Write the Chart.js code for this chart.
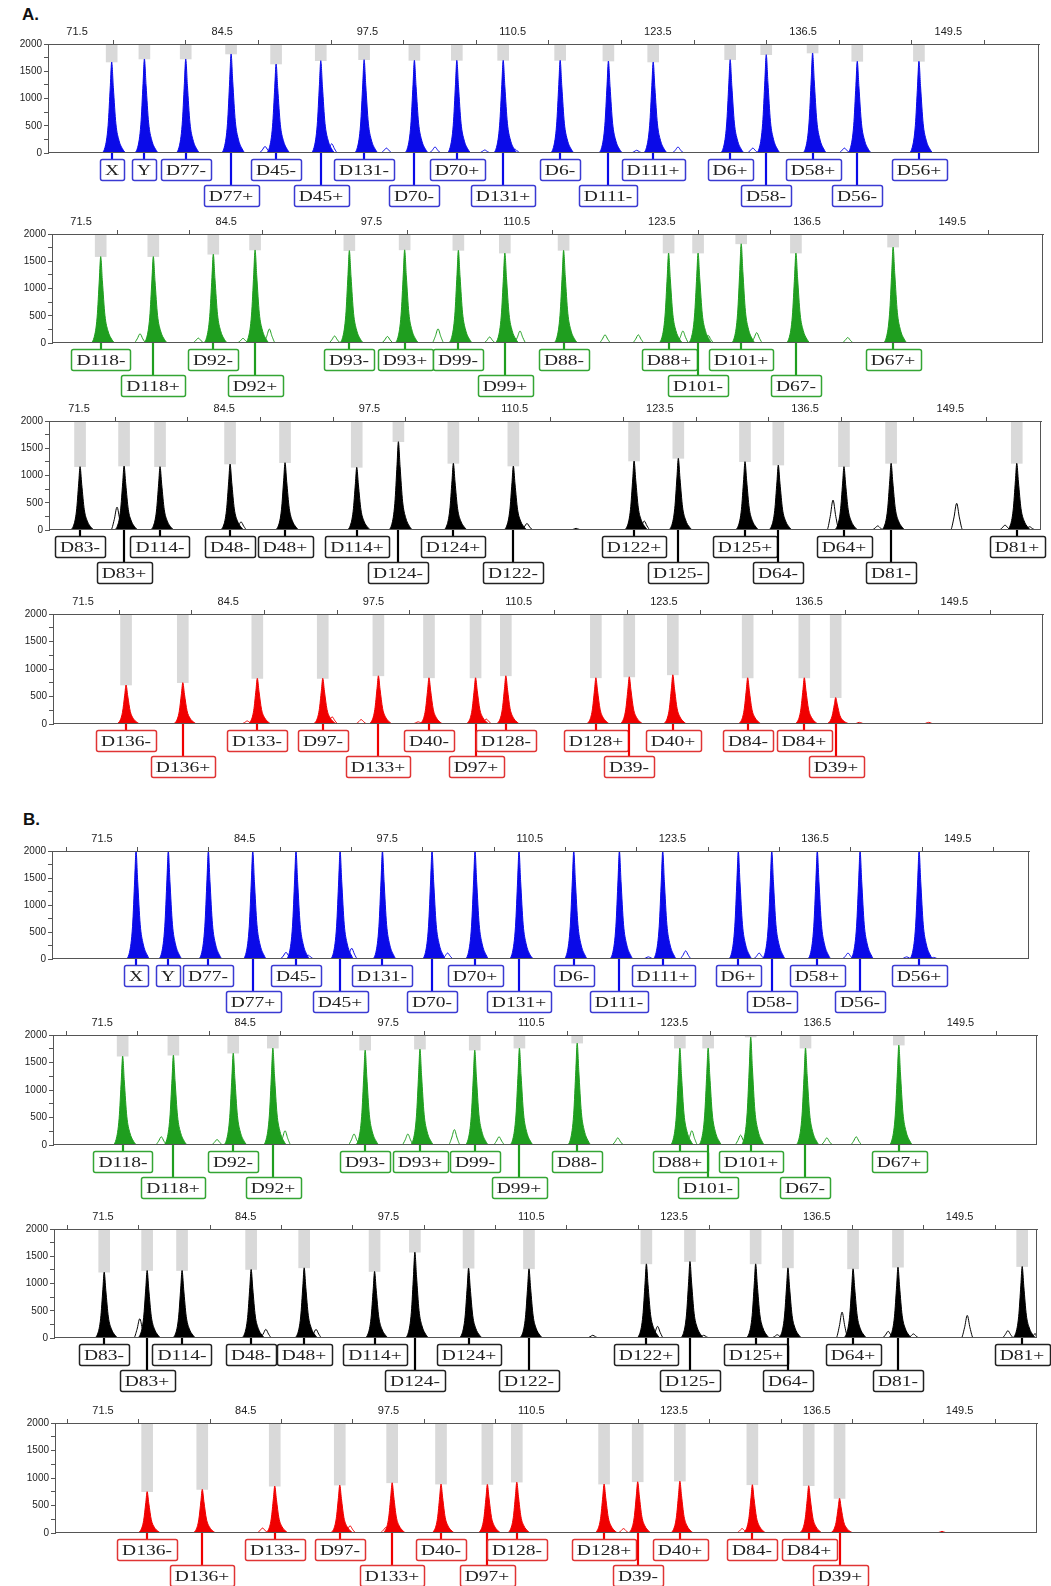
<!DOCTYPE html>
<html>
<head>
<meta charset="utf-8">
<script src="https://cdn.jsdelivr.net/npm/chart.js@4.4.1/dist/chart.umd.min.js"></script>
<style>
body { margin:0; background:#fff; width:1051px; height:1586px; position:relative; overflow:hidden; }
canvas { position:absolute; left:0; }
.tag { position:absolute; font:bold 17px "Liberation Sans", Arial, sans-serif; color:#111; }
</style>
</head>
<body>
<div class="tag" style="left:22px;top:5px">A.</div>
<div class="tag" style="left:23px;top:810px">B.</div>
<script>
// axis ticks (size in bp on top, RFU on the left)
const xTickValues = [71.5, 78, 84.5, 91, 97.5, 104, 110.5, 117, 123.5, 130, 136.5, 143, 149.5, 156];
const xTickLabels = ['71.5', '', '84.5', '', '97.5', '', '110.5', '', '123.5', '', '136.5', '', '149.5', ''];
const yTickValues = [0, 250, 500, 750, 1000, 1250, 1500, 1750, 2000];
const yTickLabels = ['0', '', '500', '', '1000', '', '1500', '', '2000'];

// ---- A, blue
const a1Names  = ['X','Y','D77-','D77+','D45-','D45+','D131-','D70-','D70+','D131+','D6-','D111-','D111+','D6+','D58-','D58+','D56-','D56+'];
const a1Pos    = [74.6, 77.53, 81.23, 85.29, 89.32, 93.32, 97.2, 101.7, 105.5, 109.65, 114.75, 119.07, 123.08, 129.97, 133.2, 137.35, 141.35, 146.87];
const a1Height = [1670, 1725, 1725, 1817, 1633, 1694, 1712, 1700, 1700, 1700, 1700, 1688, 1670, 1712, 1804, 1835, 1682, 1682];
const a1Row    = [1,1,1,2,1,2,1,2,1,2,1,2,1,1,2,1,2,1];
const a1BumpPos    = [88.33, 94.3, 99.2, 103.55, 108.0, 110.7, 121.6, 125.3, 132.0, 140.2];
const a1BumpHeight = [120, 170, 90, 110, 55, 70, 50, 110, 90, 90];

// ---- A, green
const a2Names  = ['D118-','D118+','D92-','D92+','D93-','D93+','D99-','D99+','D88-','D88+','D101-','D101+','D67-','D67+'];
const a2Pos    = [73.26, 77.97, 83.34, 87.08, 95.52, 100.47, 105.28, 109.44, 114.7, 124.1, 126.74, 130.6, 135.5, 144.2];
const a2Height = [1585, 1585, 1629, 1707, 1695, 1709, 1700, 1650, 1700, 1650, 1650, 1820, 1650, 1760];
const a2Row    = [1,2,1,2,1,1,1,2,1,1,2,1,2,1];
const a2BumpPos    = [76.78, 82.0, 86.0, 88.36, 94.2, 98.93, 103.46, 108.08, 110.8, 118.41, 121.39, 125.38, 127.64, 131.99, 140.14];
const a2BumpHeight = [170, 90, 85, 256, 128, 120, 260, 110, 220, 150, 150, 220, 140, 190, 100];

// ---- A, black
const a3Names  = ['D83-','D83+','D114-','D48-','D48+','D114+','D124-','D124+','D122-','D122+','D125-','D125+','D64-','D64+','D81-','D81+'];
const a3Pos    = [71.59, 75.53, 78.75, 85.02, 89.94, 96.36, 100.09, 105.01, 110.38, 121.19, 125.15, 131.12, 134.1, 139.98, 144.2, 155.45];
const a3Height = [1162, 1174, 1162, 1211, 1235, 1150, 1620, 1223, 1174, 1266, 1315, 1254, 1192, 1162, 1223, 1223];
const a3Row    = [1,2,1,1,1,1,2,1,2,1,2,1,2,1,2,1];
const a3BumpPos    = [74.9, 86.0, 90.3, 111.6, 116.0, 122.1, 139.0, 143.0, 150.07, 154.4, 156.6];
const a3BumpHeight = [420, 150, 150, 120, 30, 165, 550, 75, 490, 90, 60];

// ---- A, red
const a4Names  = ['D136-','D136+','D133-','D97-','D133+','D40-','D97+','D128-','D128+','D39-','D40+','D84-','D84+','D39+'];
const a4Pos    = [75.35, 80.43, 87.1, 92.96, 97.94, 102.47, 106.64, 109.35, 117.41, 120.4, 124.3, 131.0, 136.07, 138.88];
const a4Height = [709, 751, 830, 830, 876, 840, 840, 876, 840, 858, 894, 840, 840, 480];
const a4Row    = [1,2,1,1,2,1,2,1,1,2,1,1,1,2];
const a4BumpPos    = [86.2, 93.8, 96.4, 101.5, 107.6, 141.0, 147.2];
const a4BumpHeight = [55, 130, 80, 40, 90, 30, 30];

// ---- B, blue
const b1Names  = ['X','Y','D77-','D77+','D45-','D45+','D131-','D70-','D70+','D131+','D6-','D111-','D111+','D6+','D58-','D58+','D56-','D56+'];
const b1Pos    = [74.6, 77.54, 81.19, 85.24, 89.18, 93.2, 97.06, 101.58, 105.5, 109.51, 114.5, 118.66, 122.61, 129.5, 132.55, 136.7, 140.6, 145.98];
const b1Height = [2000, 2000, 2000, 2000, 2000, 2000, 2000, 2000, 2000, 2000, 2000, 2000, 2000, 2000, 2000, 2000, 2000, 2000];
const b1Row    = [1,1,1,2,1,2,1,2,1,2,1,2,1,1,2,1,2,1];
const b1BumpPos    = [88.27, 90.3, 94.26, 103.0, 110.4, 121.3, 124.7, 131.4, 139.5, 144.85, 147.3];
const b1BumpHeight = [123, 70, 200, 110, 75, 40, 150, 110, 110, 40, 30];

// ---- B, green
const b2Names  = ['D118-','D118+','D92-','D92+','D93-','D93+','D99-','D99+','D88-','D88+','D101-','D101+','D67-','D67+'];
const b2Pos    = [73.36, 77.97, 83.41, 87.01, 95.4, 100.38, 105.36, 109.42, 114.67, 124.0, 126.57, 130.44, 135.42, 143.9];
const b2Height = [1615, 1633, 1670, 1762, 1725, 1743, 1725, 1762, 1853, 1762, 1762, 1963, 1762, 1817];
const b2Row    = [1,2,1,2,1,1,1,2,1,1,2,1,2,1];
const b2BumpPos    = [76.87, 81.94, 88.12, 94.39, 99.28, 103.51, 107.57, 110.06, 118.36, 125.09, 129.52, 137.36, 140.03];
const b2BumpHeight = [150, 100, 260, 200, 200, 280, 150, 180, 130, 260, 180, 130, 150];

// ---- B, black
const b3Names  = ['D83-','D83+','D114-','D48-','D48+','D114+','D124-','D124+','D122-','D122+','D125-','D125+','D64-','D64+','D81-','D81+'];
const b3Pos    = [71.61, 75.52, 78.7, 84.99, 89.82, 96.23, 99.9, 104.79, 110.29, 120.98, 124.95, 130.93, 133.87, 139.8, 143.89, 155.2];
const b3Height = [1208, 1238, 1238, 1257, 1287, 1220, 1574, 1281, 1269, 1360, 1403, 1360, 1287, 1269, 1299, 1311];
const b3Row    = [1,2,1,1,1,1,2,1,2,1,2,1,2,1,2,1];
const b3BumpPos    = [74.85, 86.33, 90.9, 110.9, 116.1, 122.0, 126.2, 132.9, 138.8, 143.0, 145.3, 150.2, 153.9, 156.4];
const b3BumpHeight = [354, 159, 159, 150, 50, 213, 50, 60, 476, 122, 75, 415, 135, 80];

// ---- B, red
const b4Names  = ['D136-','D136+','D133-','D97-','D133+','D40-','D97+','D128-','D128+','D39-','D40+','D84-','D84+','D39+'];
const b4Pos    = [75.52, 80.54, 87.14, 93.06, 97.83, 102.28, 106.5, 109.18, 117.13, 120.19, 124.03, 130.63, 135.76, 138.57];
const b4Height = [751, 793, 853, 871, 913, 889, 883, 925, 889, 931, 943, 877, 859, 631];
const b4Row    = [1,2,1,1,2,1,2,1,1,2,1,1,1,2];
const b4BumpPos    = [86.03, 94.0, 97.25, 107.0, 118.9, 129.7, 147.9];
const b4BumpHeight = [90, 130, 100, 110, 80, 80, 30];

// peak outline templates [offset in bp, fraction of height]
const peakShape = [[-1.0,0],[-0.6,0.06],[-0.32,0.3],[-0.12,0.74],[0,1],[0.15,0.72],[0.38,0.32],[0.65,0.14],[1.0,0.04],[1.3,0]];
const bumpShape = [[-0.55,0],[-0.25,0.45],[0,1],[0.25,0.45],[0.55,0]];

const BLUE = '#0a0ae8', GREEN = '#1f9e1f', BLACK = '#000000', RED = '#f00000';

// where each panel sits on the page
const panels = [
    { names:a1Names, pos:a1Pos, h:a1Height, row:a1Row, bPos:a1BumpPos, bH:a1BumpHeight, color:BLUE,  box:'#3a3ad2', top:44,   bottom:153,  left:48, right:1039, min:68.90, max:157.62 },
    { names:a2Names, pos:a2Pos, h:a2Height, row:a2Row, bPos:a2BumpPos, bH:a2BumpHeight, color:GREEN, box:'#34a534', top:234,  bottom:343,  left:52, right:1043, min:68.90, max:157.62 },
    { names:a3Names, pos:a3Pos, h:a3Height, row:a3Row, bPos:a3BumpPos, bH:a3BumpHeight, color:BLACK, box:'#222222', top:421,  bottom:530,  left:49, right:1041, min:68.81, max:157.62 },
    { names:a4Names, pos:a4Pos, h:a4Height, row:a4Row, bPos:a4BumpPos, bH:a4BumpHeight, color:RED,   box:'#e03434', top:614,  bottom:724,  left:53, right:1043, min:68.81, max:157.44 },
    { names:b1Names, pos:b1Pos, h:b1Height, row:b1Row, bPos:b1BumpPos, bH:b1BumpHeight, color:BLUE,  box:'#3a3ad2', top:851,  bottom:959,  left:52, right:1029, min:66.94, max:156.0 },
    { names:b2Names, pos:b2Pos, h:b2Height, row:b2Row, bPos:b2BumpPos, bH:b2BumpHeight, color:GREEN, box:'#34a534', top:1035, bottom:1145, left:53, right:1037, min:67.03, max:156.46 },
    { names:b3Names, pos:b3Pos, h:b3Height, row:b3Row, bPos:b3BumpPos, bH:b3BumpHeight, color:BLACK, box:'#222222', top:1229, bottom:1338, left:54, right:1037, min:67.04, max:156.55 },
    { names:b4Names, pos:b4Pos, h:b4Height, row:b4Row, bPos:b4BumpPos, bH:b4BumpHeight, color:RED,   box:'#e03434', top:1423, bottom:1533, left:55, right:1037, min:67.13, max:156.55 }
];

Chart.defaults.font.family = '"Liberation Sans", Arial, sans-serif';

function shapePoints(pos, hts, shape, min, max) {
    let pts = [{x:min, y:0}, {x:max, y:0}];
    pos.forEach((p, i) => shape.forEach(s => pts.push({x: p + s[0], y: hts[i] * s[1]})));
    return pts.sort((a, b) => a.x - b.x);
}

function labelPlugin(p) {
    return {
        id: 'peakLabels',
        afterDraw(chart) {
            let {ctx, chartArea, scales} = chart;
            ctx.save();
            ctx.strokeStyle = '#555';
            ctx.lineWidth = 1;
            ctx.strokeRect(chartArea.left + 0.5, chartArea.top + 0.5, chartArea.width - 1, chartArea.height - 1);

            ctx.font = '15px "Liberation Serif", "Times New Roman", serif';
            p.names.forEach((name, i) => {
                let x = Math.round(scales.x.getPixelForValue(p.pos[i]));
                let boxTop = chartArea.bottom + (p.row[i] == 1 ? 6 : 32);
                let w = ctx.measureText(name).width * 1.3 + 10;
                let h = 21;
                ctx.strokeStyle = p.color;
                ctx.lineWidth = 2.2;
                ctx.beginPath();
                ctx.moveTo(x, chartArea.bottom);
                ctx.lineTo(x, boxTop);
                ctx.stroke();

                ctx.fillStyle = '#fff';
                ctx.strokeStyle = p.box;
                ctx.lineWidth = 1.5;
                ctx.beginPath();
                ctx.roundRect(Math.round(x - w / 2) + 0.5, boxTop + 0.5, Math.round(w), h, 2);
                ctx.fill();
                ctx.stroke();

                ctx.save();
                ctx.translate(x, boxTop + h / 2 + 1.5);
                ctx.scale(1.3, 1);
                ctx.fillStyle = '#222';
                ctx.textAlign = 'center';
                ctx.textBaseline = 'middle';
                ctx.fillText(name, 0, 0);
                ctx.restore();
            });
            ctx.restore();
        }
    };
}

panels.forEach(p => {
    let cv = document.createElement('canvas');
    let H = (p.bottom - p.top) + 30 + 62;
    cv.width = 1051;
    cv.height = H;
    cv.style.top = (p.top - 30) + 'px';
    document.body.appendChild(cv);

    let bins = p.pos.map((x, i) => ({x: x, y: [Math.min(p.h[i], 2000), 2000]}));

    new Chart(cv, {
        type: 'line',
        data: {
            datasets: [
                { type:'line', data: shapePoints(p.bPos, p.bH, bumpShape, p.min, p.max), borderColor:p.color, borderWidth:1, pointRadius:0, fill:false, cubicInterpolationMode:'monotone', order:0 },
                { type:'line', data: shapePoints(p.pos, p.h, peakShape, p.min, p.max), borderColor:p.color, backgroundColor:p.color, borderWidth:1, pointRadius:0, fill:'origin', cubicInterpolationMode:'monotone', order:1 },
                { type:'bar', data: bins, backgroundColor:'#d9d9d9', barThickness:11, order:2 }
            ]
        },
        options: {
            responsive: false,
            animation: false,
            devicePixelRatio: 1,
            layout: { padding: { left:0, top:0, right: 1051 - p.right, bottom: 62 } },
            plugins: { legend: { display:false }, tooltip: { enabled:false } },
            scales: {
                x: {
                    type: 'linear', position: 'top', min: p.min, max: p.max, offset: false,
                    afterBuildTicks: ax => { ax.ticks = xTickValues.map(v => ({value: v})); },
                    afterFit: ax => { ax.height = 30; },
                    ticks: { callback: (v, i) => xTickLabels[i], autoSkip:false, maxRotation:0, font:{size:11}, color:'#222', padding:1 },
                    grid: { drawOnChartArea:false, tickLength:4, color:'#555' },
                    border: { color:'#555' }
                },
                y: {
                    min: 0, max: 2000,
                    afterBuildTicks: ax => { ax.ticks = yTickValues.map(v => ({value: v})); },
                    afterFit: ax => { ax.width = p.left; },
                    ticks: { callback: (v, i) => yTickLabels[i], autoSkip:false, font:{size:10}, color:'#222', padding:2 },
                    grid: { drawOnChartArea:false, tickLength:4, color:'#555' },
                    border: { color:'#555' }
                }
            }
        },
        plugins: [labelPlugin(p)]
    });
});
</script>
</body>
</html>
